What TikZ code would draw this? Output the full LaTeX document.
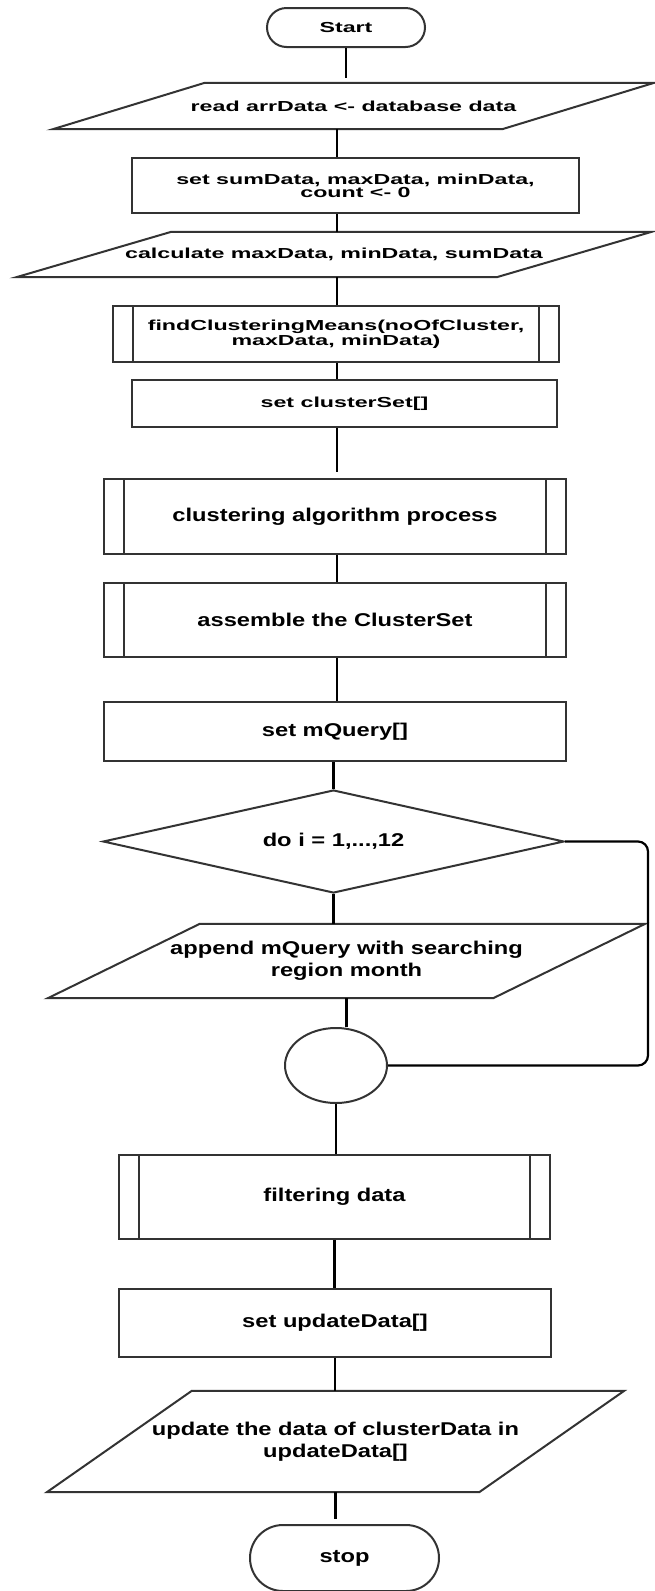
\documentclass[tikz,border=0pt]{standalone}
\usepackage{fontspec}
\usetikzlibrary{positioning}
\usetikzlibrary{calc}
\usetikzlibrary{shapes.geometric}
\newfontfamily\topfont{Liberation Sans}[FakeStretch=1.6]
\newfontfamily\lowfont{Liberation Sans}[FakeStretch=1.28]
\newcommand{\topsize}{\topfont\bfseries\fontsize{14.5}{13}\selectfont}
\newcommand{\lowsize}{\lowfont\bfseries\fontsize{18.5}{22}\selectfont}
\newcommand{\ioframe}[2]{
	\draw[shapeline] ([xshift=#2]#1.north west) -- ([xshift=#2]#1.north east) -- ([xshift=-#2]#1.south east) -- ([xshift=-#2]#1.south west) -- cycle;
}
\tikzset{
	shapeline/.style={draw=black!80, line width=2pt},
	terminal/.style={shapeline, rectangle, align=center, inner sep=0pt},
	procbox/.style={shapeline, rectangle, align=center, inner sep=0pt},
	subproc/.style={procbox, path picture={
		\draw[shapeline] ([xshift=20pt]path picture bounding box.north west) -- ([xshift=20pt]path picture bounding box.south west);
		\draw[shapeline] ([xshift=-20pt]path picture bounding box.north east) -- ([xshift=-20pt]path picture bounding box.south east);
	}},
	iobox/.style={rectangle, align=center, inner sep=0pt},
	decision/.style={shapeline, diamond, aspect=4.5, inner sep=0pt},
	joint/.style={shapeline, ellipse, inner sep=0pt},
	flow/.style={draw=black, line width=2.2pt}
}

\begin{document}
\begin{tikzpicture}[x=1pt, y=-1pt]
\useasboundingbox (0,0) rectangle (654,1591);
\coordinate (spine) at (337,0);

% top part
\node[terminal, rounded corners=19.5pt, minimum width=158pt, minimum height=39pt, font=\topsize] (start) at (346,27.5) {Start};
\node[iobox, minimum width=449pt, minimum height=46pt, font=\topsize] (read) at (353.5,106) {read arrData <- database data};
\ioframe{read}{76pt}
\node[procbox, minimum width=447pt, minimum height=55pt, font=\topsize] (setinit) at (355.5,185.5) {set sumData, maxData, minData,\\count <- 0};
\node[iobox, minimum width=480pt, minimum height=45pt, font=\topsize] (calc) at (334,254.5) {calculate maxData, minData, sumData};
\ioframe{calc}{77.5pt}
\node[subproc, minimum width=446pt, minimum height=56pt, font=\topsize] (findmeans) at (336,334) {findClusteringMeans(noOfCluster,\\maxData, minData)};
\node[procbox, minimum width=425pt, minimum height=47pt, font=\topsize] (setcluster) at (344.5,403.5) {set clusterSet[]};

% clustering
\node[subproc, minimum width=462pt, minimum height=75pt, font=\lowsize] (clusalgo) at (335,516.5) {clustering algorithm process};
\node[subproc, minimum width=462pt, minimum height=74pt, font=\lowsize] (assemble) at (335,620) {assemble the ClusterSet};
\node[procbox, minimum width=462pt, minimum height=59pt, font=\lowsize] (setquery) at (335,731.5) {set mQuery[]};

% loop over months
\node[decision, minimum width=461pt, minimum height=103pt, font=\lowsize] (loop) at (333.5,841.5) {do i = 1,...,12};
\node[iobox, minimum width=445pt, minimum height=74pt, font=\lowsize] (append) at (346.5,961) {append mQuery with searching\\region month};
\ioframe{append}{76pt}
\node[joint, minimum width=102pt, minimum height=75pt] (joint) at (336,1065.5) {};

% update
\node[subproc, minimum width=431pt, minimum height=84pt, font=\lowsize] (filter) at (334.5,1197) {filtering data};
\node[procbox, minimum width=432pt, minimum height=68pt, font=\lowsize] (setupdate) at (335,1323) {set updateData[]};
\node[iobox, minimum width=432pt, minimum height=101pt, font=\lowsize] (update) at (335.5,1441.5) {update the data of clusterData in\\updateData[]};
\ioframe{update}{72.5pt}
\node[terminal, rounded corners=33pt, minimum width=189pt, minimum height=66pt, font=\lowsize] (stop) at (344.5,1558) {stop};

% connectors
\draw[flow, shorten >=5pt] (start.south) -- (start.south |- read.north);
\draw[flow] (read.south -| spine) -- (setinit.north -| spine);
\draw[flow] (setinit.south -| spine) -- (calc.north -| spine);
\draw[flow] (calc.south -| spine) -- (findmeans.north -| spine);
\draw[flow] (findmeans.south -| spine) -- (setcluster.north -| spine);
\draw[flow, shorten >=6pt] (setcluster.south -| spine) -- (clusalgo.north -| spine);
\draw[flow] (clusalgo.south -| spine) -- (assemble.north -| spine);
\draw[flow] (assemble.south -| spine) -- (setquery.north -| spine);
\draw[flow] (setquery.south -| loop.north) -- (loop.north);
\draw[flow] (loop.south) -- (loop.south |- append.north);
\draw[flow] (append.south) -- (append.south |- joint.north);
\draw[flow, rounded corners=10pt] (loop.east) -- ++(83,0) |- (joint.east);
\draw[flow] (joint.south) -- (joint.south |- filter.north);
\draw[flow] (filter.south) -- (filter.south |- setupdate.north);
\draw[flow] (setupdate.south) -- (setupdate.south |- update.north);
\draw[flow, shorten >=5pt] (update.south) -- (update.south |- stop.north);
\end{tikzpicture}
\end{document}
